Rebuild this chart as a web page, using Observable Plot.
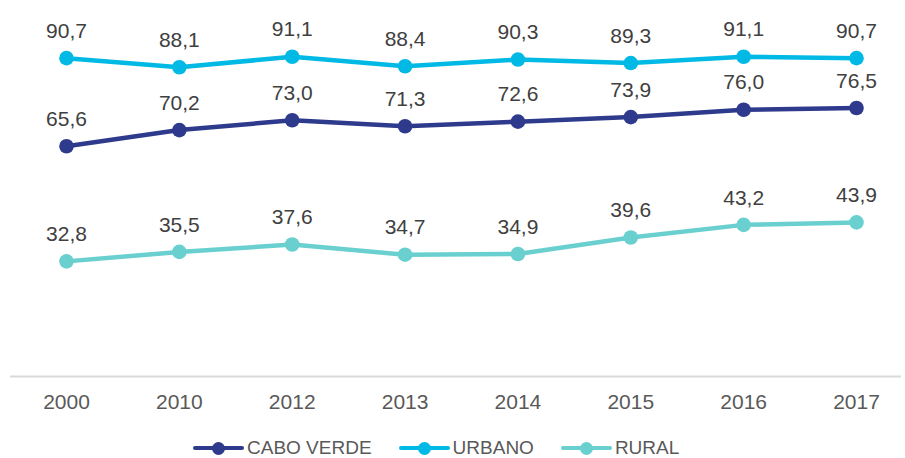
<!DOCTYPE html>
<html>
<head>
<meta charset="utf-8">
<script src="https://cdn.jsdelivr.net/npm/d3@7"></script>
<script src="https://cdn.jsdelivr.net/npm/@observablehq/plot@0.6"></script>
<style>
  html, body { margin: 0; padding: 0; background: #fff; }
  body { width: 905px; height: 458px; overflow: hidden; position: relative; font-family: "Liberation Sans", Arial, sans-serif; }
  #chart svg { display: block; }
  #legend { position: absolute; left: 193px; top: 434px; height: 28px; display: flex; align-items: center; font-size: 19px; color: #595959; white-space: nowrap; }
  .item { display: flex; align-items: center; margin-right: 27px; }
  .sw { position: relative; width: 51px; height: 14px; margin-right: 3px; }
  .sw .ln { position: absolute; left: 0; right: 0; top: 5px; height: 4px; border-radius: 2px; }
  .sw .dt { position: absolute; left: 19px; top: 1px; width: 13px; height: 13px; border-radius: 50%; }
</style>
</head>
<body>
<div id="chart"></div>
<div id="legend"></div>
<script>
const years = ["2000", "2010", "2012", "2013", "2014", "2015", "2016", "2017"];
const caboVerde = [65.6, 70.2, 73.0, 71.3, 72.6, 73.9, 76.0, 76.5];
const urbano = [90.7, 88.1, 91.1, 88.4, 90.3, 89.3, 91.1, 90.7];
const rural = [32.8, 35.5, 37.6, 34.7, 34.9, 39.6, 43.2, 43.9];
const seriesNames = ["CABO VERDE", "URBANO", "RURAL"];
const seriesColors = ["#2E3A8C", "#00B9E4", "#6ACFCF"];

const seriesValues = [caboVerde, urbano, rural];
const data = [];
seriesNames.forEach((s, i) => {
  years.forEach((y, j) => data.push({ series: s, year: y, value: seriesValues[i][j] }));
});
const fmt = v => d3.format(".1f")(v).replace(".", ",");
const color = { domain: seriesNames, range: seriesColors };

const chart = Plot.plot({
  width: 905,
  height: 418,
  marginLeft: 66,
  marginRight: 49,
  marginTop: 25,
  marginBottom: 42,
  style: { fontFamily: "Liberation Sans, Arial, sans-serif", background: "#fff" },
  x: { type: "point", domain: years, padding: 0, round: false, label: null },
  y: { domain: [0, 100], axis: null },
  color,
  marks: [
    Plot.ruleY([0], { stroke: "#D9D9D9", strokeWidth: 2, insetLeft: -56, insetRight: -45 }),
    Plot.axisX({ tickSize: 0, tickPadding: 18, fontSize: 21, color: "#595959", label: null }),
    Plot.line(data, { x: "year", y: "value", z: "series", stroke: "series", strokeWidth: 4.5, strokeLinecap: "round", strokeLinejoin: "round" }),
    Plot.dot(data, { x: "year", y: "value", fill: "series", r: 7.3 }),
    Plot.text(data, { x: "year", y: "value", text: d => fmt(d.value), dy: -27, fontSize: 21, fill: "#404040" })
  ]
});
document.getElementById("chart").appendChild(chart);

const legend = document.getElementById("legend");
seriesNames.forEach((s, i) => {
  const item = document.createElement("div");
  item.className = "item";
  item.innerHTML = `<span class="sw"><span class="ln" style="background:${seriesColors[i]}"></span><span class="dt" style="background:${seriesColors[i]}"></span></span><span>${s}</span>`;
  legend.appendChild(item);
});
</script>
</body>
</html>
